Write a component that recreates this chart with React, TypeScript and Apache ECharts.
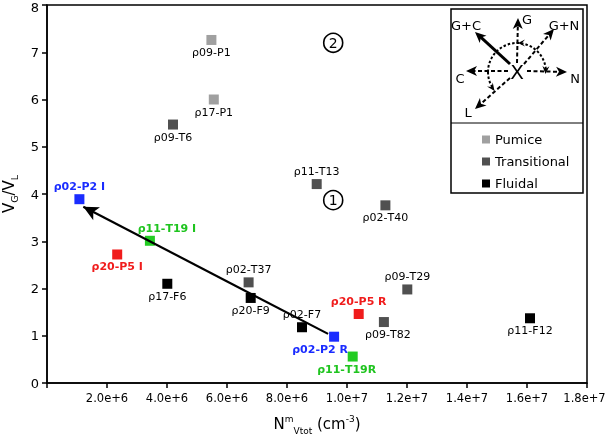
import React, { useEffect, useRef } from "react";
import * as echarts from "echarts";

// ---- data ----
const pumiceNames = ["ρ09-P1", "ρ17-P1"];
const pumiceX = [5.48e6, 5.56e6];
const pumiceY = [7.26, 6.0];

const transNames = ["ρ09-T6", "ρ11-T13", "ρ02-T40", "ρ02-T37", "ρ09-T29", "ρ09-T82"];
const transX = [4.2e6, 8.99e6, 11.28e6, 6.72e6, 12.01e6, 11.23e6];
const transY = [5.47, 4.21, 3.76, 2.13, 1.98, 1.29];

const fluidNames = ["ρ17-F6", "ρ20-F9", "ρ02-F7", "ρ11-F12"];
const fluidX = [4.01e6, 6.79e6, 8.5e6, 16.1e6];
const fluidY = [2.1, 1.8, 1.18, 1.37];

const p2Names = ["ρ02-P2 I", "ρ02-P2 R"];
const p2X = [1.08e6, 9.57e6];
const p2Y = [3.89, 0.98];

const t19Names = ["ρ11-T19 I", "ρ11-T19R"];
const t19X = [3.43e6, 10.19e6];
const t19Y = [3.01, 0.56];

const p5Names = ["ρ20-P5 I", "ρ20-P5 R"];
const p5X = [2.34e6, 10.39e6];
const p5Y = [2.72, 1.46];

const zoneLabels = ["1", "2"];
const zoneX = [9.54e6, 9.54e6];
const zoneY = [3.87, 7.2];

const arrowFrom = [9.37e6, 1.04];
const arrowTo = [1.21e6, 3.73];

const legendNames = ["Pumice", "Transitional", "Fluidal"];

const X_MIN = 0;
const X_MAX = 1.8e7;
const X_STEP = 2e6;
const Y_MIN = 0;
const Y_MAX = 8;
const Y_STEP = 1;

// ---- label layout ----
const labelLayout: Record<string, { position: string; offset?: number[] }> = {
  "ρ11-T13": { position: "top" },
  "ρ02-T37": { position: "top" },
  "ρ09-T29": { position: "top" },
  "ρ02-F7": { position: "top" },
  "ρ02-P2 I": { position: "top" },
  "ρ02-P2 R": { position: "bottom", offset: [-14, 0] },
  "ρ11-T19 I": { position: "top", offset: [17, 0] },
  "ρ11-T19R": { position: "bottom", offset: [-6, 0] },
  "ρ20-P5 R": { position: "top" },
  "ρ09-T82": { position: "bottom", offset: [4, 0] },
};

const FONT = "DejaVu Sans, Liberation Sans, Arial, sans-serif";

function pts(names: string[], xs: number[], ys: number[], color: string, bold: boolean) {
  return names.map((n, i) => {
    const l = labelLayout[n] || { position: "bottom" };
    return {
      name: n,
      value: [xs[i], ys[i]],
      label: {
        show: true,
        formatter: n,
        position: l.position,
        distance: 2,
        offset: l.offset || [0, 0],
        color,
        fontSize: 11,
        fontWeight: bold ? "bold" : "normal",
        fontFamily: FONT,
      },
    };
  });
}

function head(x1: number, y1: number, x2: number, y2: number, len = 11, w = 5) {
  const dx = x2 - x1, dy = y2 - y1;
  const d = Math.sqrt(dx * dx + dy * dy);
  const ux = dx / d, uy = dy / d;
  const bx = x2 - ux * len, by = y2 - uy * len;
  return {
    type: "polygon",
    z: 2,
    shape: { points: [[x2, y2], [bx - uy * w, by + ux * w], [bx + ux * 3, by + uy * 3], [bx + uy * w, by - ux * w]] },
    style: { fill: "#000" },
  };
}

function arrowLine(x1: number, y1: number, x2: number, y2: number, dashed: boolean) {
  const dx = x2 - x1, dy = y2 - y1;
  const d = Math.sqrt(dx * dx + dy * dy);
  const ex = x2 - (dx / d) * 7, ey = y2 - (dy / d) * 7;
  return [
    {
      type: "line",
      z: 2,
      shape: { x1, y1, x2: ex, y2: ey },
      style: { stroke: "#000", lineWidth: dashed ? 2 : 3, lineDash: dashed ? [4, 2.5] : null },
    },
    head(x1, y1, x2, y2),
  ];
}

function txt(t: string, x: number, y: number, size = 13) {
  return {
    type: "text",
    z: 2,
    x,
    y,
    style: { text: t, fill: "#000", font: `${size}px ${FONT}`, textAlign: "center", textVerticalAlign: "middle" },
  };
}

export default function App() {
  const ref = useRef<HTMLDivElement>(null);
  useEffect(() => {
    if (!ref.current) return;
    const chart = echarts.init(ref.current, null, { renderer: "svg" });
    const cx = 517, cy = 72, r = 29;
    const arcEndL = Math.PI * 0.8;
    const graphic: any[] = [
      { type: "rect", z: 1, shape: { x: 451, y: 9, width: 132, height: 184 }, style: { fill: "#fff", stroke: "#000", lineWidth: 1.5 } },
      { type: "line", z: 2, shape: { x1: 451, y1: 123, x2: 583, y2: 123 }, style: { stroke: "#000", lineWidth: 1 } },
      { type: "arc", z: 2, shape: { cx, cy, r, startAngle: Math.PI, endAngle: Math.PI * 1.97, clockwise: true }, style: { stroke: "#000", fill: "none", lineWidth: 2, lineDash: [2.5, 2] } },
      { type: "arc", z: 2, shape: { cx, cy, r, startAngle: Math.PI, endAngle: arcEndL + 0.08, clockwise: false }, style: { stroke: "#000", fill: "none", lineWidth: 2, lineDash: [2.5, 2] } },
      head(cx + r, cy - 8, cx + r - 0.5, cy + 2, 8, 3.5),
      head(cx + r * Math.cos(arcEndL) - 4, cy + r * Math.sin(arcEndL) - 5, cx + r * Math.cos(arcEndL) + 1, cy + r * Math.sin(arcEndL) + 2, 8, 3.5),
      head(cx + 8, cy - r, cx + 1, cy - r, 7, 3.5),
      ...arrowLine(510, 64, 475, 32, false),
      ...arrowLine(517, 63, 518, 18, true),
      ...arrowLine(524, 64, 554, 29, true),
      ...arrowLine(508, 71, 466, 71, true),
      ...arrowLine(527, 71, 567, 72, true),
      ...arrowLine(510, 78, 475, 109, true),
      txt("X", cx, 72, 20),
      txt("G+C", 466, 25),
      txt("G", 527, 19),
      txt("G+N", 564, 25),
      txt("C", 460, 78),
      txt("N", 575, 78),
      txt("L", 468, 112),
    ];

    const option: any = {
      animation: false,
      textStyle: { fontFamily: FONT },
      grid: { left: 47, right: 20, top: 5, bottom: 51, show: true, borderColor: "#000", borderWidth: 1.5, containLabel: false, outerBoundsMode: "none" },
      legend: {
        data: legendNames,
        orient: "vertical",
        left: 477,
        top: 128,
        itemWidth: 8,
        itemHeight: 8,
        itemGap: 9,
        icon: "rect",
        textStyle: { fontSize: 13, color: "#000", fontFamily: FONT },
        z: 10,
      },
      xAxis: {
        type: "value",
        min: X_MIN,
        max: X_MAX,
        interval: X_STEP,
        splitLine: { show: false },
        axisLine: { onZero: false, lineStyle: { color: "#000", width: 1.5 } },
        axisTick: { length: 5, lineStyle: { color: "#000", width: 1.5 } },
        axisLabel: {
          color: "#000",
          fontSize: 11.5,
          fontFamily: FONT,
          margin: 9,
          formatter: (v: number) => (v === X_MIN ? "" : v === X_MAX ? `{r|${v.toExponential(1)}}` : v.toExponential(1)),
          rich: { r: { fontSize: 11.5, color: "#000", fontFamily: FONT, padding: [0, 5, 0, 0] } },
        },
        name: "{a|N}{sup|m}{sub|Vtot}{a| (cm}{sup|-3}{a|)}",
        nameLocation: "middle",
        nameGap: 30,
        nameTextStyle: {
          rich: {
            a: { fontSize: 15, color: "#000", fontFamily: FONT, lineHeight: 22, verticalAlign: "middle" },
            sup: { fontSize: 9, color: "#000", fontFamily: FONT, lineHeight: 22, verticalAlign: "top", padding: [1, 0, 0, 0] },
            sub: { fontSize: 9, color: "#000", fontFamily: FONT, lineHeight: 22, verticalAlign: "bottom" },
          },
        },
      },
      yAxis: {
        type: "value",
        min: Y_MIN,
        max: Y_MAX,
        interval: Y_STEP,
        splitLine: { show: false },
        axisLine: { onZero: false, lineStyle: { color: "#000", width: 1.5 } },
        axisTick: { length: 5, lineStyle: { color: "#000", width: 1.5 } },
        axisLabel: {
          color: "#000",
          fontSize: 13,
          fontFamily: FONT,
          margin: 8,
          formatter: (v: number) => (v === Y_MAX ? `{t|${v}}` : `${v}`),
          rich: { t: { fontSize: 13, color: "#000", fontFamily: FONT, padding: [5, 0, 0, 0] } },
        },
        name: "{a|V}{sub|G}{a|/V}{sub|L}",
        nameLocation: "middle",
        nameGap: 23,
        nameTextStyle: {
          rich: {
            a: { fontSize: 15, color: "#000", fontFamily: FONT, lineHeight: 18, verticalAlign: "middle" },
            sub: { fontSize: 9.5, color: "#000", fontFamily: FONT, lineHeight: 18, verticalAlign: "bottom", padding: [0, 0, -2, 0] },
          },
        },
      },
      graphic,
      series: [
        {
          type: "scatter",
          name: "arrow",
          z: 1,
          data: [],
          silent: true,
          markLine: {
            silent: true,
            symbol: ["none", "arrow"],
            symbolSize: [11, 15],
            label: { show: false },
            lineStyle: { color: "#000", width: 2.2, type: "solid" },
            data: [[{ coord: arrowFrom }, { coord: arrowTo }]],
          },
        },
        { type: "scatter", name: "Pumice", z: 3, symbol: "rect", symbolSize: 10, itemStyle: { color: "#a0a0a0", opacity: 1 }, data: pts(pumiceNames, pumiceX, pumiceY, "#000", false) },
        { type: "scatter", name: "Transitional", z: 3, symbol: "rect", symbolSize: 10, itemStyle: { color: "#505050", opacity: 1 }, data: pts(transNames, transX, transY, "#000", false) },
        { type: "scatter", name: "Fluidal", z: 3, symbol: "rect", symbolSize: 10, itemStyle: { color: "#000000", opacity: 1 }, data: pts(fluidNames, fluidX, fluidY, "#000", false) },
        { type: "scatter", name: "P2", z: 3, symbol: "rect", symbolSize: 10, itemStyle: { color: "#1a2cff", opacity: 1 }, data: pts(p2Names, p2X, p2Y, "#1a2cff", true) },
        { type: "scatter", name: "T19", z: 3, symbol: "rect", symbolSize: 10, itemStyle: { color: "#22cc22", opacity: 1 }, data: pts(t19Names, t19X, t19Y, "#1fc41f", true) },
        { type: "scatter", name: "P5", z: 3, symbol: "rect", symbolSize: 10, itemStyle: { color: "#f01c1c", opacity: 1 }, data: pts(p5Names, p5X, p5Y, "#f01c1c", true) },
        {
          type: "scatter",
          name: "zones",
          z: 3,
          symbol: "circle",
          symbolSize: 19,
          itemStyle: { color: "#fff", borderColor: "#000", borderWidth: 1.6, opacity: 1 },
          label: { show: true, position: "inside", color: "#000", fontSize: 14, fontFamily: FONT, formatter: (p: any) => p.name },
          data: zoneLabels.map((n, i) => ({ name: n, value: [zoneX[i], zoneY[i]] })),
        },
      ],
    };
    chart.setOption(option);
    return () => chart.dispose();
  }, []);
  return <div ref={ref} style={{ position: "fixed", left: 0, top: 0, width: 607, height: 434 }} />;
}
